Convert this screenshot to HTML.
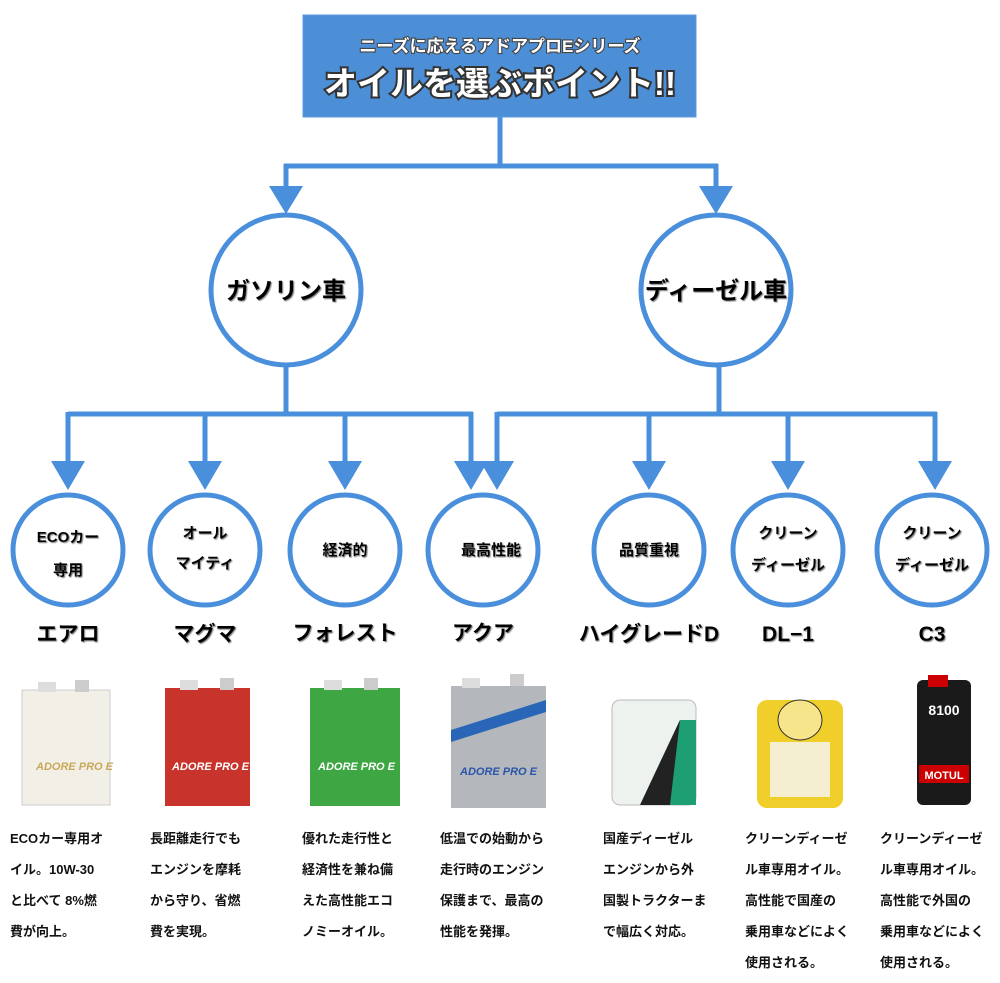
<!DOCTYPE html>
<html><head><meta charset="utf-8"><style>
html,body{margin:0;padding:0;background:#fff;width:1000px;height:983px;overflow:hidden}
svg{display:block}
text{font-family:"Liberation Sans","Noto Sans CJK JP",sans-serif;font-weight:bold}
</style></head><body>
<svg width="1000" height="983" viewBox="0 0 1000 983" xmlns="http://www.w3.org/2000/svg">
<defs><filter id="sh"><feDropShadow dx="1" dy="1" stdDeviation="0.4" flood-color="#777"/></filter></defs>
<!-- header -->
<rect x="303" y="15" width="393" height="102" fill="#4d8fd6" stroke="#5b9ae0"/>
<text x="500" y="52" font-size="17" fill="#fff" text-anchor="middle" stroke="#444" stroke-width="2.2" paint-order="stroke">ニーズに応えるアドアプロEシリーズ</text>
<text x="500" y="95" font-size="33" fill="#fff" text-anchor="middle" stroke="#333" stroke-width="4" paint-order="stroke">オイルを選ぶポイント!!</text>
<g stroke="#4a8fdb" stroke-width="5" fill="none">
<path d="M500 117 V166 M284 166 H718 M286 164 V188 M716 164 V188"/>
<path d="M286 365 V414 M68 414 H473 M68 412 V464 M205 412 V464 M345 412 V464 M471 412 V464"/>
<path d="M719 365 V414 M497 414 H937 M497 412 V464 M649 412 V464 M788 412 V464 M935 412 V464"/>
<circle cx="286" cy="290" r="75"/><circle cx="716" cy="290" r="75"/>
<circle cx="68" cy="550" r="55"/><circle cx="205" cy="550" r="55"/><circle cx="345" cy="550" r="55"/><circle cx="483" cy="550" r="55"/>
<circle cx="649" cy="550" r="55"/><circle cx="788" cy="550" r="55"/><circle cx="932" cy="550" r="55"/>
</g>
<g fill="#4a8fdb">
<polygon points="269,186 303,186 286,214"/><polygon points="699,186 733,186 716,214"/>
<polygon points="51,461 85,461 68,490"/><polygon points="188,461 222,461 205,490"/><polygon points="328,461 362,461 345,490"/><polygon points="454,461 488,461 471,490"/>
<polygon points="480,461 514,461 497,490"/><polygon points="632,461 666,461 649,490"/><polygon points="771,461 805,461 788,490"/><polygon points="918,461 952,461 935,490"/>
</g>
<g fill="#000" text-anchor="middle" filter="url(#sh)">
<text x="286" y="299" font-size="24">ガソリン車</text>
<text x="716" y="299" font-size="24">ディーゼル車</text>
<g font-size="15">
<text x="68" y="542">ECOカー</text><text x="68" y="575">専用</text>
<text x="205" y="538">オール</text><text x="205" y="568">マイティ</text>
<text x="345" y="555">経済的</text>
<text x="491" y="555">最高性能</text>
<text x="649" y="555">品質重視</text>
<text x="788" y="538">クリーン</text><text x="788" y="570">ディーゼル</text>
<text x="932" y="538">クリーン</text><text x="932" y="570">ディーゼル</text>
</g>
<g font-size="21">
<text x="68" y="641">エアロ</text><text x="205" y="641">マグマ</text><text x="345" y="640">フォレスト</text><text x="483" y="640">アクア</text>
<text x="649" y="641">ハイグレードD</text><text x="788" y="641">DL−1</text><text x="932" y="641">C3</text>
</g>
</g>
<!-- cans -->
<g>
<rect x="22" y="690" width="88" height="115" fill="#f2efe6" stroke="#ccc"/><rect x="38" y="682" width="18" height="10" fill="#ddd"/><rect x="75" y="680" width="14" height="12" fill="#ccc"/>
<text x="36" y="770" font-size="11" fill="#c9a85a" font-style="italic">ADORE PRO E</text>
<rect x="165" y="688" width="85" height="118" fill="#c8342b"/><rect x="180" y="680" width="18" height="10" fill="#ddd"/><rect x="220" y="678" width="14" height="12" fill="#ccc"/>
<text x="172" y="770" font-size="11" fill="#fff" font-style="italic">ADORE PRO E</text>
<rect x="310" y="688" width="90" height="118" fill="#3ea642"/><rect x="324" y="680" width="18" height="10" fill="#ddd"/><rect x="364" y="678" width="14" height="12" fill="#ccc"/>
<text x="318" y="770" font-size="11" fill="#fff" font-style="italic">ADORE PRO E</text>
<rect x="451" y="686" width="95" height="122" fill="#b4b8bc"/><rect x="462" y="678" width="18" height="10" fill="#ddd"/><rect x="510" y="674" width="14" height="12" fill="#ccc"/>
<polygon points="451,730 546,700 546,712 451,742" fill="#2a66b8"/>
<text x="460" y="775" font-size="11" fill="#2a55a8" font-style="italic">ADORE PRO E</text>
<rect x="612" y="700" width="84" height="105" rx="8" fill="#eef2ee" stroke="#bbb"/>
<polygon points="640,805 680,720 696,720 696,805" fill="#1e9e73"/><polygon points="640,805 680,720 670,805" fill="#222"/>
<rect x="757" y="700" width="86" height="108" rx="10" fill="#f0cf2a"/><ellipse cx="800" cy="720" rx="22" ry="20" fill="#f7e58c" stroke="#333"/>
<rect x="770" y="742" width="60" height="55" fill="#f3efd0"/>
<rect x="917" y="680" width="54" height="125" rx="6" fill="#1a1a1a"/><rect x="928" y="675" width="20" height="12" fill="#c00"/>
<text x="944" y="715" font-size="14" fill="#fff" text-anchor="middle" font-weight="normal">8100</text>
<rect x="919" y="765" width="50" height="18" fill="#c00"/><text x="944" y="779" font-size="11" fill="#fff" text-anchor="middle">MOTUL</text>
</g>
<g font-size="13" fill="#111">
<text x="10" y="843">ECOカー専用オ</text><text x="10" y="874">イル。10W-30</text><text x="10" y="905">と比べて 8%燃</text><text x="10" y="936">費が向上。</text>
<text x="150" y="843">長距離走行でも</text><text x="150" y="874">エンジンを摩耗</text><text x="150" y="905">から守り、省燃</text><text x="150" y="936">費を実現。</text>
<text x="302" y="843">優れた走行性と</text><text x="302" y="874">経済性を兼ね備</text><text x="302" y="905">えた高性能エコ</text><text x="302" y="936">ノミーオイル。</text>
<text x="440" y="843">低温での始動から</text><text x="440" y="874">走行時のエンジン</text><text x="440" y="905">保護まで、最高の</text><text x="440" y="936">性能を発揮。</text>
<text x="603" y="843">国産ディーゼル</text><text x="603" y="874">エンジンから外</text><text x="603" y="905">国製トラクターま</text><text x="603" y="936">で幅広く対応。</text>
<text x="745" y="843">クリーンディーゼ</text><text x="745" y="874">ル車専用オイル。</text><text x="745" y="905">高性能で国産の</text><text x="745" y="936">乗用車などによく</text><text x="745" y="967">使用される。</text>
<text x="880" y="843">クリーンディーゼ</text><text x="880" y="874">ル車専用オイル。</text><text x="880" y="905">高性能で外国の</text><text x="880" y="936">乗用車などによく</text><text x="880" y="967">使用される。</text>
</g>
</svg>
</body></html>
